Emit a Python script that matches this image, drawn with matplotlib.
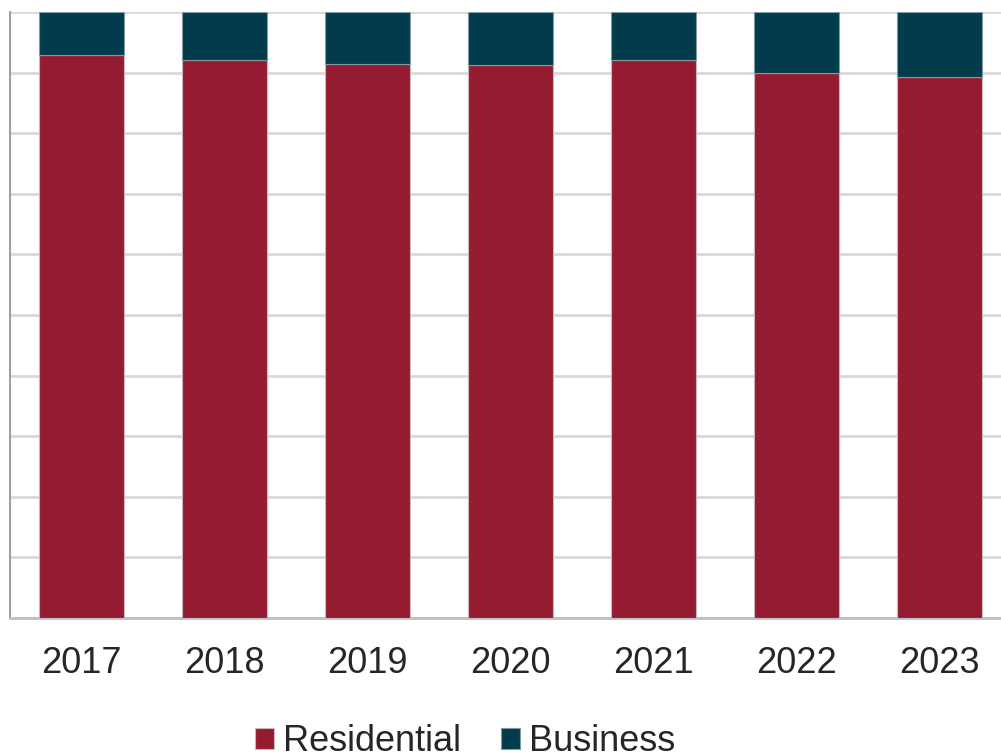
import matplotlib.pyplot as plt
import numpy as np

plt.rcParams["font.family"] = ["Liberation Sans", "DejaVu Sans"]

years = ["2017", "2018", "2019", "2020", "2021", "2022", "2023"]
residential = [92.9, 92.0, 91.5, 91.2, 92.1, 89.9, 89.2]
business = [100 - r for r in residential]

red = "#951c30"
teal = "#023c4c"

fig = plt.figure(figsize=(10.01, 7.54), dpi=100)
ax = fig.add_axes([10 / 1001, 136 / 754, 1001 / 1001, 606 / 754])

x = np.arange(len(years))
ax.bar(x, residential, width=0.59, color=red, edgecolor="#c9b8bb",
       linewidth=0.8, label="Residential", zorder=3)
ax.bar(x, business, width=0.59, bottom=residential, color=teal,
       edgecolor="#7f9aa2", linewidth=0.8, label="Business", zorder=3)

ax.set_xlim(-0.5, len(years) - 0.5)
ax.set_ylim(0, 100)
ax.set_yticks(np.arange(0, 101, 10))
ax.set_yticklabels([])
ax.tick_params(axis="y", length=0)
ax.tick_params(axis="x", length=0, pad=20, labelsize=26, labelcolor="#262626")
ax.set_xticks(x)
ax.set_xticklabels(years)

ax.grid(axis="y", color="#d9d9d9", linewidth=2, zorder=0)
for side in ["top", "right"]:
    ax.spines[side].set_visible(False)
ax.spines["left"].set_color("#8c8c8c")
ax.spines["left"].set_linewidth(1.2)
ax.spines["bottom"].set_color("#bfbfbf")
ax.spines["bottom"].set_linewidth(2)

fig.legend(loc="lower left", bbox_to_anchor=(255 / 1001, -5 / 754), ncol=2,
           frameon=False, fontsize=26, handlelength=0.53, handleheight=0.53,
           handletextpad=0.25, columnspacing=1.1, borderpad=0,
           borderaxespad=0, labelcolor="#262626")

fig.savefig("out.png", dpi=100)
